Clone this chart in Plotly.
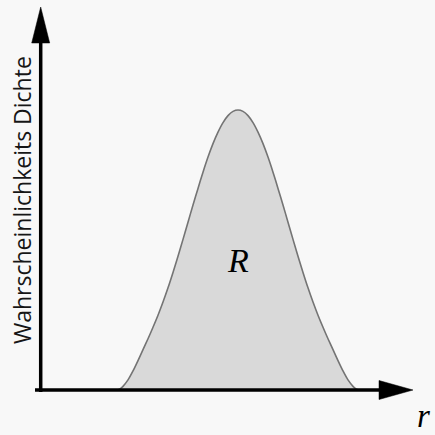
import plotly.graph_objects as go

# Bell-shaped density profile: offsets from the peak position and normalised height
peak_r = 197.3
offsets = [0, 5, 10, 15, 20, 25, 30, 35, 40, 45, 50, 55, 60, 65, 70, 75, 80, 85, 90,
           95, 100, 105, 110, 115, 118, 121]
half_density = [1.0, 0.995, 0.980, 0.955, 0.921, 0.880, 0.832, 0.778, 0.720, 0.661,
                0.599, 0.538, 0.478, 0.420, 0.365, 0.314, 0.267, 0.224, 0.183, 0.144,
                0.105, 0.068, 0.036, 0.013, 0.004, 0.0]

y_label = "Wahrscheinlichkeits Dichte"
x_label = "r"
area_label = "R"

# the profile is symmetric about its peak
r_values = [peak_r - d for d in reversed(offsets)] + [peak_r + d for d in offsets[1:]]
density = list(reversed(half_density)) + half_density[1:]

W = H = 435
X0 = 40.7      # pixel column of the vertical axis
Y0 = 390.0     # pixel row of the horizontal axis
YS = 280.0     # pixels per unit density


def dx(px):
    return px - X0


def dy(py):
    return (Y0 - py) / YS


BG = "#f8f8f8"

fig = go.Figure()
fig.add_trace(go.Scatter(
    x=r_values, y=density, mode="lines",
    line=dict(color="#747474", width=1.6, shape="spline", smoothing=0.8),
    fill="tozeroy", fillcolor="#d9d9d9", hoverinfo="skip", showlegend=False,
))

shapes = [
    # vertical axis and its arrowhead
    dict(type="line", x0=0, x1=0, y0=dy(392), y1=dy(40), line=dict(color="black", width=3.5)),
    dict(type="path", path=f"M {dx(31.7)},{dy(43)} L {dx(49.7)},{dy(43)} L 0,{dy(7)} Z",
         fillcolor="black", line=dict(color="black", width=0.5)),
    # horizontal axis and its arrowhead
    dict(type="line", x0=dx(35), x1=dx(382), y0=0, y1=0, line=dict(color="black", width=3.5)),
    dict(type="path", path=f"M {dx(379)},{dy(380.5)} L {dx(379)},{dy(399.5)} L {dx(413)},0 Z",
         fillcolor="black", line=dict(color="black", width=0.5)),
]

annotations = [
    dict(x=dx(238), y=dy(260), text=area_label, showarrow=False, xanchor="center", yanchor="middle",
         font=dict(family="Liberation Serif", size=34, color="black", style="italic")),
    dict(x=dx(431), y=dy(434.5), text=x_label, showarrow=False, xanchor="right", yanchor="bottom",
         borderpad=0,
         font=dict(family="Liberation Serif", size=33, color="black", style="italic")),
    dict(x=dx(22), y=dy(200), text=y_label, showarrow=False, textangle=-90,
         xanchor="center", yanchor="middle",
         font=dict(family="Open Sans", size=23, color="#161616")),
]

fig.update_layout(
    width=W, height=H, autosize=False,
    margin=dict(l=0, r=0, t=0, b=0, pad=0),
    paper_bgcolor=BG, plot_bgcolor=BG,
    xaxis=dict(range=[dx(0), dx(W)], visible=False, fixedrange=True),
    yaxis=dict(range=[dy(H), dy(0)], visible=False, fixedrange=True),
    shapes=shapes, annotations=annotations,
)

fig.write_html("out.html", config={"displayModeBar": False})
